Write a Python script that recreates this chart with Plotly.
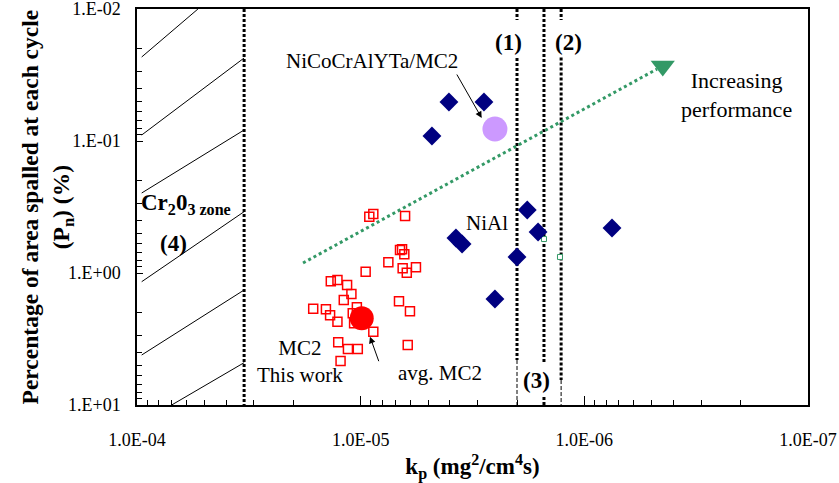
import plotly.graph_objects as go

# ---------------- data ----------------
# MC2, this work (open red squares)
mc2_kp = [9.15e-6, 8.78e-6, 6.33e-6, 6.67e-6, 6.53e-6, 6.38e-6, 7.52e-6, 9.50e-6,
          6.49e-6, 6.22e-6, 5.66e-6, 1.36e-5, 1.27e-5, 1.15e-5, 1.10e-5, 1.19e-5,
          1.63e-5, 1.43e-5, 1.37e-5, 1.27e-5, 1.04e-5, 1.085e-5, 1.07e-5, 6.74e-6,
          6.02e-6, 8.78e-6, 1.26e-5, 1.14e-5, 1.03e-5, 6.16e-6, 1.23e-5]
mc2_pn = [0.375, 0.357, 0.370, 0.669, 0.661, 0.722, 0.830, 0.978,
          0.921, 0.995, 0.905, 1.156, 1.130, 1.233, 1.443, 1.602,
          1.865, 1.884, 2.092, 2.338, 1.819, 2.020, 2.405, 1.638,
          1.951, 2.785, 3.35, 3.77, 3.77, 3.51, 4.64]
# average of MC2
avg_kp = [9.89e-6]
avg_pn = [2.20]
# NiAl (navy diamonds)
nial_kp = [4.03e-6, 2.81e-6, 4.80e-6, 1.80e-6, 3.75e-6, 3.52e-6, 1.61e-6, 2.00e-6, 2.51e-6, 7.52e-7]
nial_pn = [0.0506, 0.0506, 0.0917, 0.333, 0.543, 0.603, 0.489, 0.756, 1.574, 0.456]
# NiCoCrAlYTa/MC2
nico_kp = [2.51e-6]
nico_pn = [0.0811]
# other small points
other_kp = [1.515e-6, 1.285e-6]
other_pn = [0.553, 0.756]
# zone boundaries (kp)
zone_kp = [3.32e-5, 2.0e-6, 1.515e-6, 1.27e-6]
# increasing performance trend arrow
trend_kp = [1.81e-5, 4.73e-7]
trend_pn = [0.84, 0.0285]
trend_tip_kp = [4.46e-7]
trend_tip_pn = [0.0270]
# Cr2O3 zone hatch lines (start / end)
hatch_kp0 = [9.53e-5, 9.53e-5, 9.53e-5, 9.53e-5, 9.53e-5, 7.0e-5]
hatch_pn0 = [0.0231, 0.0901, 0.2477, 1.164, 4.18, 10.0]
hatch_kp1 = [5.34e-5, 3.32e-5, 3.32e-5, 3.32e-5, 3.32e-5, 3.32e-5]
hatch_pn1 = [0.0100, 0.0235, 0.0825, 0.343, 1.345, 4.78]

x_decades = [1e-4, 1e-5, 1e-6, 1e-7]
x_ticktext = ["1.0E-04", "1.0E-05", "1.0E-06", "1.0E-07"]
y_decades = [1e-2, 1e-1, 1, 10]
y_ticktext = ["1.E-02", "1.E-01", "1.E+00", "1.E+01"]

FONT = "Liberation Serif, Times New Roman, serif"
NAVY = "#000080"
RED = "#FF0000"
GREEN = "#339966"


def minor_ticks(decades):
    """2..9 minor tick positions between the decades"""
    hi = max(decades)
    return [m * d for d in decades if d < hi for m in range(2, 10)]


x_minor = minor_ticks(x_decades)
y_minor = minor_ticks(y_decades)

fig = go.Figure()

# hatch lines
for a, b, c, d in zip(hatch_kp0, hatch_pn0, hatch_kp1, hatch_pn1):
    fig.add_trace(go.Scatter(x=[a, c], y=[b, d], mode="lines",
                             line=dict(color="black", width=1), hoverinfo="skip"))

# zone boundary lines: thick dotted segments and thin dashed segments
thick_segments = [
    (zone_kp[0], 0.01, 10.0),
    (zone_kp[1], 0.01, 0.0121), (zone_kp[1], 0.0235, 4.56),
    (zone_kp[2], 0.01, 4.72), (zone_kp[2], 8.70, 10.0),
    (zone_kp[3], 0.01, 0.0121), (zone_kp[3], 0.0233, 6.47),
]
thin_segments = [
    (zone_kp[1], 4.56, 10.0),
    (zone_kp[3], 6.47, 10.0),
]
for k, y0, y1 in thick_segments:
    fig.add_trace(go.Scatter(x=[k, k], y=[y0, y1], mode="lines",
                             line=dict(color="black", width=3, dash="3px,2px"),
                             hoverinfo="skip"))
for k, y0, y1 in thin_segments:
    fig.add_trace(go.Scatter(x=[k, k], y=[y0, y1], mode="lines",
                             line=dict(color="black", width=1, dash="4px,2px"),
                             hoverinfo="skip"))

# trend arrow
fig.add_trace(go.Scatter(x=trend_kp, y=trend_pn, mode="lines",
                         line=dict(color=GREEN, width=3, dash="3px,3px"), hoverinfo="skip"))
fig.add_trace(go.Scatter(x=trend_tip_kp, y=trend_tip_pn, mode="markers",
                         marker=dict(symbol="triangle-down", size=21, color=GREEN,
                                     line=dict(width=0)), hoverinfo="skip"))

# MC2 squares
fig.add_trace(go.Scatter(x=mc2_kp, y=mc2_pn, mode="markers", name="MC2",
                         marker=dict(symbol="square-open", size=9, color=RED,
                                     line=dict(color=RED, width=1.5))))
# avg MC2
fig.add_trace(go.Scatter(x=avg_kp, y=avg_pn, mode="markers", name="avg. MC2",
                         marker=dict(symbol="circle", size=24, color=RED, line=dict(width=0))))
# other small squares
fig.add_trace(go.Scatter(x=other_kp, y=other_pn, mode="markers",
                         marker=dict(symbol="square", size=5, color="white",
                                     line=dict(color=GREEN, width=1))))
# NiAl diamonds
fig.add_trace(go.Scatter(x=nial_kp, y=nial_pn, mode="markers", name="NiAl",
                         marker=dict(symbol="diamond", size=14.5, color=NAVY, line=dict(width=0))))
# NiCoCrAlYTa/MC2
fig.add_trace(go.Scatter(x=nico_kp, y=nico_pn, mode="markers", name="NiCoCrAlYTa/MC2",
                         marker=dict(symbol="circle", size=25, color="#CC99FF", line=dict(width=0))))

# invisible trace on the overlay axes that carry the inside tick marks
fig.add_trace(go.Scatter(x=[1e-5], y=[1], xaxis="x2", yaxis="y2", mode="markers",
                         marker=dict(opacity=0), hoverinfo="skip"))

reg = dict(family=FONT, size=21, color="black")
bold = dict(family=FONT, size=23, color="black", weight="bold")

annotations = [
    dict(x=-5.6587, y=-1.75, text="(1)", font=bold),
    dict(x=-5.927, y=-1.75, text="(2)", font=bold),
    dict(x=-5.788, y=0.8106, text="(3)", font=bold),
    dict(x=-4.165, y=-0.2273, text="(4)", font=bold),
    dict(x=-4.009, y=-0.52, xanchor="left", text="Cr<sub>2</sub>0<sub>3 zone</sub>", font=bold),
    dict(x=-5.0507, y=-1.606, text="NiCoCrAlYTa/MC2", font=reg),
    dict(x=-6.6825, y=-1.3485, text="Increasing<br>performance", font=dict(family=FONT, size=22, color="black")),
    dict(x=-5.5648, y=-0.3788, text="NiAl", font=reg),
    dict(x=-4.7288, y=0.6742, text="MC2<br>This work", font=reg),
    dict(x=-5.3547, y=0.7576, text="avg. MC2", font=reg),
]
for a in annotations:
    a.update(xref="x", yref="y", showarrow=False)

arrows = [
    dict(x=-5.5411, y=-1.1742, ax=-25.7, ay=-45),
    dict(x=-5.0417, y=0.4826, ax=9.3, ay=26),
]
for a in arrows:
    a.update(xref="x", yref="y", axref="pixel", ayref="pixel", text="", showarrow=True,
             arrowhead=2, arrowsize=1.3, arrowwidth=1, arrowcolor="black")

# y axis title (two lines, rotated)
ytitle = dict(xref="paper", yref="paper", x=-0.1335, y=0.5, xanchor="center", yanchor="middle",
              textangle=-90, showarrow=False,
              text="Percentage of area spalled at each cycle<br>(P<sub>n</sub>) (%)",
              font=dict(family=FONT, size=23.5, color="black", weight="bold"))

XR = [-4, -7]
YR = [1, -2]

fig.update_layout(
    template="none",
    width=839, height=483,
    margin=dict(l=137, r=31, t=9, b=78, autoexpand=False),
    paper_bgcolor="white", plot_bgcolor="white",
    showlegend=False,
    font=dict(family=FONT, color="black"),
    annotations=annotations + arrows + [ytitle],
    xaxis=dict(
        type="log", range=XR, showgrid=False, zeroline=False, automargin=False,
        showline=True, linecolor="black", linewidth=1.5, mirror=True,
        ticks="", tickmode="array", tickvals=x_decades, ticktext=x_ticktext,
        tickfont=dict(family=FONT, size=18, color="black"),
        ticklabelstandoff=18, ticklabeloverflow="allow",
        title=dict(text="k<sub>p</sub> (mg<sup>2</sup>/cm<sup>4</sup>s)",
                   font=dict(family=FONT, size=23, color="black", weight="bold"), standoff=14),
    ),
    yaxis=dict(
        type="log", range=YR, showgrid=False, zeroline=False, automargin=False,
        showline=True, linecolor="black", linewidth=1.5, mirror=True,
        ticks="", tickmode="array", tickvals=y_decades, ticktext=y_ticktext,
        tickfont=dict(family=FONT, size=18, color="black"),
        ticklabelstandoff=11, ticklabeloverflow="allow",
    ),
    # overlay axes: tick marks only (inside), no labels
    xaxis2=dict(
        type="log", range=XR, overlaying="x", anchor="y2", side="bottom",
        showgrid=False, zeroline=False, showline=False, showticklabels=False,
        ticks="inside", ticklen=9, tickwidth=1, tickcolor="black",
        tickmode="array", tickvals=x_decades,
        minor=dict(tickmode="array", tickvals=x_minor, ticks="inside", ticklen=5,
                   tickwidth=1, tickcolor="black", showgrid=False),
    ),
    yaxis2=dict(
        type="log", range=YR, overlaying="y", anchor="x2", side="left",
        showgrid=False, zeroline=False, showline=False, showticklabels=False,
        ticks="inside", ticklen=6, tickwidth=1, tickcolor="black",
        tickmode="array", tickvals=y_decades,
        minor=dict(tickmode="array", tickvals=y_minor, ticks="inside", ticklen=5,
                   tickwidth=1, tickcolor="black", showgrid=False),
    ),
)

fig.write_html("out.html", config={"displayModeBar": False},
               post_script="document.body.style.margin='0px';")
